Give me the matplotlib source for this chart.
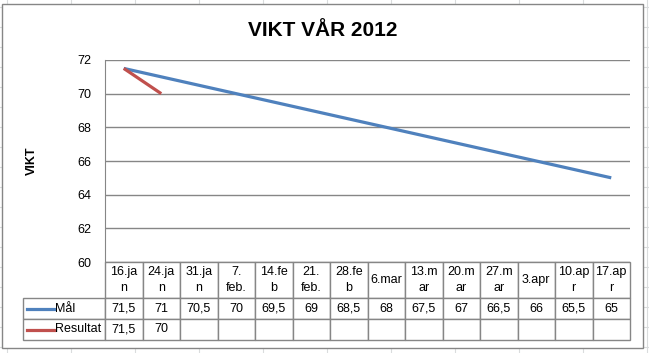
import matplotlib
matplotlib.use("Agg")
import matplotlib.pyplot as plt
from matplotlib.patches import Rectangle

# data
dates = ["16.ja\nn", "24.ja\nn", "31.ja\nn", "7.\nfeb.", "14.fe\nb", "21.\nfeb.",
         "28.fe\nb", "6.mar", "13.m\nar", "20.m\nar", "27.m\nar", "3.apr",
         "10.ap\nr", "17.ap\nr"]
mal = [71.5, 71, 70.5, 70, 69.5, 69, 68.5, 68, 67.5, 67, 66.5, 66, 65.5, 65]
resultat = [71.5, 70]
series_names = ["Mål", "Resultat"]
yticks = [60, 62, 64, 66, 68, 70, 72]

blue = "#4F81BD"
red = "#C0504D"
grey = "#868686"

plt.rcParams["font.family"] = ["Liberation Sans", "DejaVu Sans"]

W, H = 649, 353
fig = plt.figure(figsize=(W / 100, H / 100), dpi=100)


def fx(px):
    return px / W


def fy(py):
    return 1 - py / H


# spreadsheet cells behind the chart
for gx in range(7, W, 64):
    fig.add_artist(plt.Line2D([fx(gx), fx(gx)], [0, 1], color="#dadcdd", lw=0.8, zorder=0))
for gy in range(7, H, 20):
    fig.add_artist(plt.Line2D([0, 1], [fy(gy), fy(gy)], color="#dadcdd", lw=0.8, zorder=0))

# chart area
fig.add_artist(Rectangle((fx(2), fy(348)), fx(641), (348 - 4) / H,
                         facecolor="white", edgecolor=grey, lw=1.0, zorder=0.5))

# plot area
left, right, top, bottom = 105, 630, 60, 262
ax = fig.add_axes([fx(left), fy(bottom), fx(right - left), (bottom - top) / H])
ax.set_zorder(5)
ax.set_facecolor("white")

x = list(range(len(dates)))
ax.plot(x, mal, color=blue, lw=2.3, solid_capstyle="butt", zorder=3)
ax.plot(x[:len(resultat)], resultat, color=red, lw=2.3, solid_capstyle="butt", zorder=4)

ax.set_xlim(-0.5, len(dates) - 0.5)
ax.set_ylim(min(yticks), max(yticks))
ax.set_yticks(yticks)
ax.set_yticklabels([str(t) for t in yticks], fontsize=9)
ax.set_xticks([])
ax.tick_params(axis="y", length=0, pad=10)
ax.yaxis.grid(True, color=grey, lw=1.0)
ax.set_axisbelow(True)
for s in ["top", "right", "bottom"]:
    ax.spines[s].set_visible(False)
ax.spines["left"].set_color(grey)
ax.set_ylabel("VIKT", fontsize=9, fontweight="bold", labelpad=28)

fig.text(fx(323), fy(30), "VIKT VÅR 2012", ha="center", va="center",
         fontsize=15, fontweight="bold", zorder=6)


# data table under the plot
def fmt(v):
    return f"{v:g}".replace(".", ",")


cells = [[""] + dates,
         [""] + [fmt(v) for v in mal],
         [""] + [fmt(v) for v in resultat] + [""] * (len(dates) - len(resultat))]
legend_w = left - 23
plot_w = right - left
col_w = plot_w / len(dates)
tbl_h = 340 - bottom
tbl = ax.table(cellText=cells,
               colWidths=[legend_w / plot_w] + [col_w / plot_w] * len(dates),
               cellLoc="center",
               bbox=[-legend_w / plot_w, -tbl_h / (bottom - top),
                     1 + legend_w / plot_w, tbl_h / (bottom - top)])
tbl.auto_set_font_size(False)
tbl.set_fontsize(9)
row_px = [36, 21, 21]
for (r, c), cell in tbl.get_celld().items():
    cell.set_edgecolor(grey)
    cell.set_linewidth(1.0)
    cell.set_height(row_px[r] / 100)
    cell.PAD = 0.02
    if r == 0 and c == 0:
        cell.visible_edges = ""
    if r == 0:
        cell.get_text().set_linespacing(1.5)

# legend keys inside the first table column
row_mid = [298 + 10.5, 319 + 10.5]
for name, color, ym in zip(series_names, [blue, red], row_mid):
    fig.add_artist(plt.Line2D([fx(27), fx(54)], [fy(ym), fy(ym)], color=color, lw=2.3, zorder=7))
    fig.text(fx(55), fy(ym), name, ha="left", va="center", fontsize=9, zorder=7)

fig.savefig("out.png", dpi=100)
